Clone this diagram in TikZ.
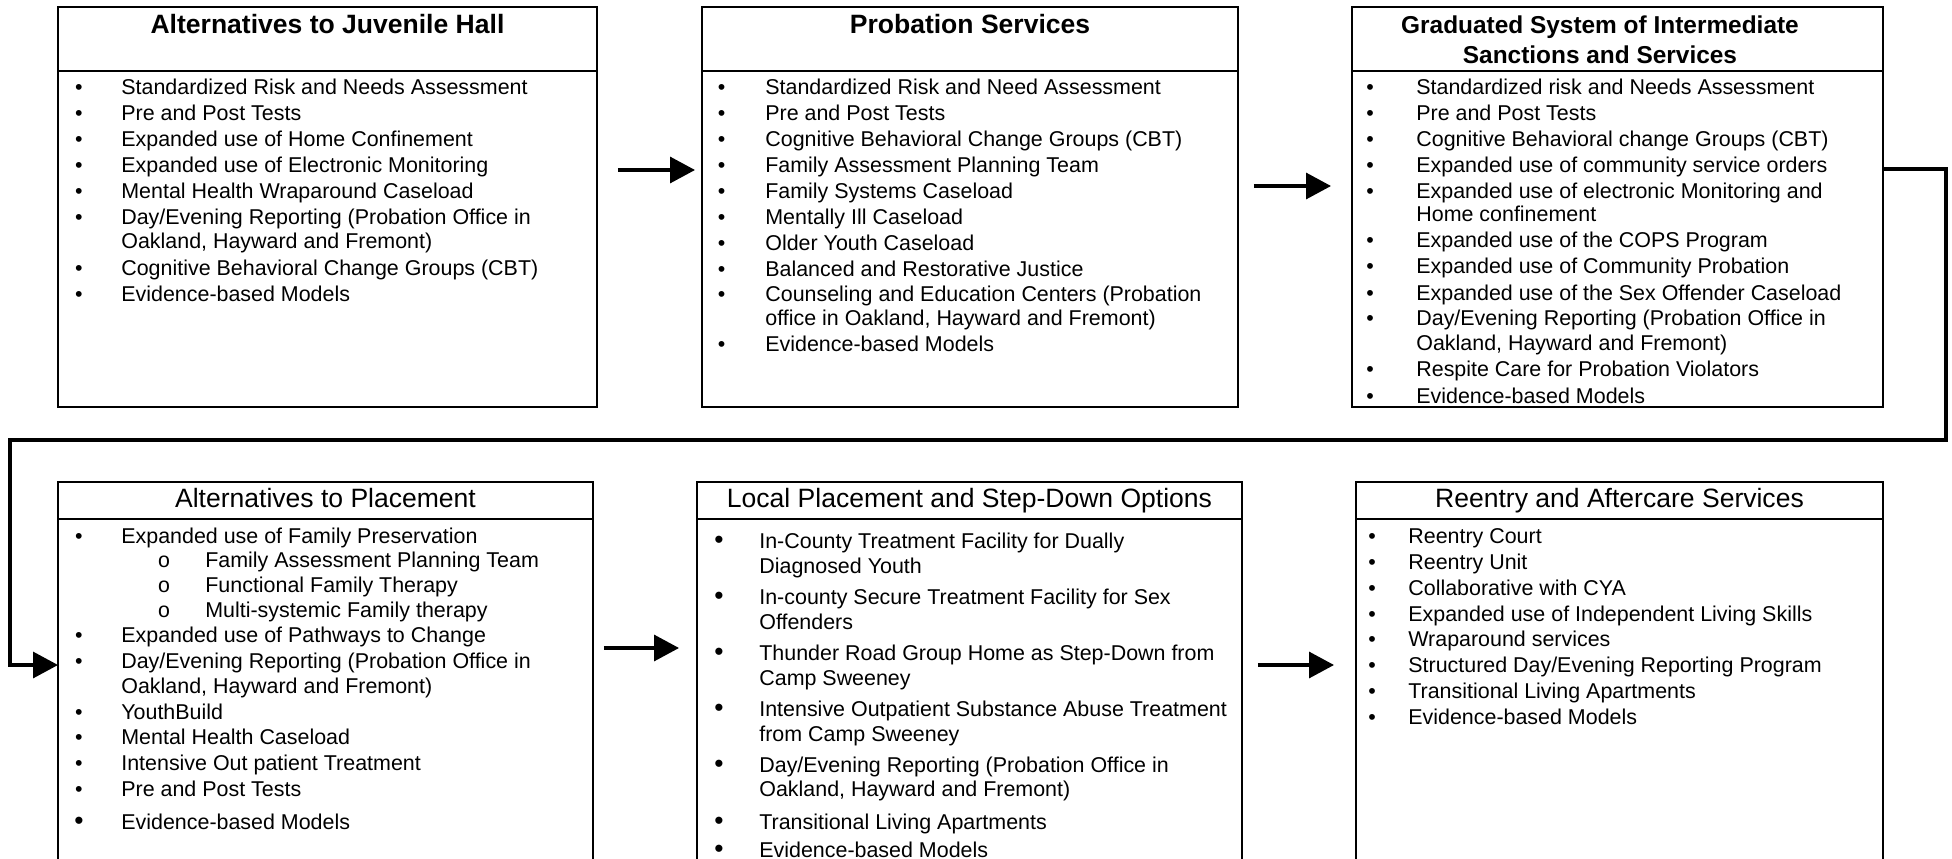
\documentclass[tikz,border=0pt]{standalone}
\usepackage{fontspec}
\setmainfont{Liberation Sans}
\setmonofont{Liberation Mono}
\usetikzlibrary{
  arrows.meta,
  positioning
}
\tikzset{
  boxline/.style={draw, line width=1.1pt, inner sep=0pt, outer sep=0pt},
  hdbold/.style={font=\fontsize{15.1}{17}\selectfont\bfseries, anchor=base, inner sep=0pt},
  hdsmall/.style={font=\fontsize{13.9}{16}\selectfont\bfseries, anchor=base, inner sep=0pt},
  hdplain/.style={font=\fontsize{15.1}{17}\selectfont, anchor=base, inner sep=0pt},
  itemtxt/.style={font=\fontsize{12.2}{14}\selectfont, anchor=base west, inner sep=0pt},
  bul/.style={font=\fontsize{12.2}{14}\selectfont, anchor=base, inner sep=0pt},
  bigbul/.style={font=\fontsize{15}{17}\selectfont, anchor=base, inner sep=0pt},
  subbul/.style={font=\fontsize{12.2}{14}\ttfamily, anchor=base, inner sep=0pt},
  flow/.style={-{Triangle[length=0.5cm, width=0.52cm]}, line width=1.9pt},
}

\begin{document}
\begin{tikzpicture}[x=0.02cm, y=-0.02cm]
\useasboundingbox (0,0) rectangle (1952,859);
\clip (0,0) rectangle (1952,859);

% --- top row: juvenile hall ---
\node[boxline, anchor=north west, minimum width=10.78cm, minimum height=1.28cm] (juvT) at (58,7) {};
\node[boxline, below=0pt of juvT, minimum width=10.78cm, minimum height=6.72cm] (juvB) {};
\node[hdbold] (juvH) at (327.5,33) {Alternatives to Juvenile Hall};
\foreach \yy [count=\k] in {94,120,146,172,198,224,275,301}
  \node[bul] (juvD\k) at (79,\yy) {\textbullet};
\foreach \yy/\tx [count=\k] in {94/{Standardized Risk and Needs Assessment},
    120/{Pre and Post Tests}, 146/{Expanded use of Home Confinement},
    172/{Expanded use of Electronic Monitoring}, 198/{Mental Health Wraparound Caseload},
    224/{Day/Evening Reporting (Probation Office in}, 248/{Oakland, Hayward and Fremont)},
    275/{Cognitive Behavioral Change Groups (CBT)}, 301/{Evidence-based Models}}
  \node[itemtxt] (juvL\k) at (121,\yy) {\tx};

% --- top row: probation services ---
\node[boxline, anchor=north west, minimum width=10.72cm, minimum height=1.28cm] (probT) at (702,7) {};
\node[boxline, below=0pt of probT, minimum width=10.72cm, minimum height=6.72cm] (probB) {};
\node[hdbold] (probH) at (970,33) {Probation Services};
\foreach \yy [count=\k] in {94,120,146,172,198,224,250,276,301,351}
  \node[bul] (probD\k) at (721.5,\yy) {\textbullet};
\foreach \yy/\tx [count=\k] in {94/{Standardized Risk and Need Assessment},
    120/{Pre and Post Tests}, 146/{Cognitive Behavioral Change Groups (CBT)},
    172/{Family Assessment Planning Team}, 198/{Family Systems Caseload},
    224/{Mentally Ill Caseload}, 250/{Older Youth Caseload},
    276/{Balanced and Restorative Justice}, 301/{Counseling and Education Centers (Probation},
    325/{office in Oakland, Hayward and Fremont)}, 351/{Evidence-based Models}}
  \node[itemtxt] (probL\k) at (765,\yy) {\tx};

% --- top row: graduated sanctions ---
\node[boxline, anchor=north west, minimum width=10.62cm, minimum height=1.28cm] (gradT) at (1352,7) {};
\node[boxline, below=0pt of gradT, minimum width=10.62cm, minimum height=6.72cm] (gradB) {};
\node[hdsmall] (gradH1) at (1600,33) {Graduated System of Intermediate};
\node[hdsmall] (gradH2) at (1600,63) {Sanctions and Services};
\foreach \yy [count=\k] in {94,120,146,172,198,247,273,300,325,376,403}
  \node[bul] (gradD\k) at (1370,\yy) {\textbullet};
\foreach \yy/\tx [count=\k] in {94/{Standardized risk and Needs Assessment},
    120/{Pre and Post Tests}, 146/{Cognitive Behavioral change Groups (CBT)},
    172/{Expanded use of community service orders},
    198/{Expanded use of electronic Monitoring and}, 221/{Home confinement},
    247/{Expanded use of the COPS Program}, 273/{Expanded use of Community Probation},
    300/{Expanded use of the Sex Offender Caseload},
    325/{Day/Evening Reporting (Probation Office in}, 350/{Oakland, Hayward and Fremont)},
    376/{Respite Care for Probation Violators}, 403/{Evidence-based Models}}
  \node[itemtxt] (gradL\k) at (1416,\yy) {\tx};

% --- bottom row: placement ---
\node[boxline, anchor=north west, minimum width=10.70cm, minimum height=0.74cm] (plcT) at (58,482) {};
\node[boxline, below=0pt of plcT, minimum width=10.70cm, minimum height=8cm] (plcB) {};
\node[hdplain] (plcH) at (325.5,507) {Alternatives to Placement};
\foreach \yy [count=\k] in {543,642,668,719,744,770,796}
  \node[bul] (plcD\k) at (79,\yy) {\textbullet};
\node[bigbul] (plcD8) at (79,829) {\textbullet};
\foreach \yy [count=\k] in {567,592,617}
  \node[subbul] (plcO\k) at (164,\yy) {o};
\foreach \yy/\tx [count=\k] in {567/{Family Assessment Planning Team},
    592/{Functional Family Therapy}, 617/{Multi-systemic Family therapy}}
  \node[itemtxt] (plcS\k) at (205,\yy) {\tx};
\foreach \yy/\tx [count=\k] in {543/{Expanded use of Family Preservation},
    642/{Expanded use of Pathways to Change},
    668/{Day/Evening Reporting (Probation Office in}, 693/{Oakland, Hayward and Fremont)},
    719/{YouthBuild}, 744/{Mental Health Caseload},
    770/{Intensive Out patient Treatment}, 796/{Pre and Post Tests},
    829/{Evidence-based Models}}
  \node[itemtxt] (plcL\k) at (121,\yy) {\tx};

% --- bottom row: local placement ---
\node[boxline, anchor=north west, minimum width=10.90cm, minimum height=0.74cm] (locT) at (697,482) {};
\node[boxline, below=0pt of locT, minimum width=10.90cm, minimum height=8cm] (locB) {};
\node[hdplain] (locH) at (969.5,507) {Local Placement and Step-Down Options};
\foreach \yy [count=\k] in {548,604,660,716,772,829,857}
  \node[bigbul] (locD\k) at (719,\yy) {\textbullet};
\foreach \yy/\tx [count=\k] in {548/{In-County Treatment Facility for Dually},
    573/{Diagnosed Youth}, 604/{In-county Secure Treatment Facility for Sex},
    629/{Offenders}, 660/{Thunder Road Group Home as Step-Down from},
    685/{Camp Sweeney}, 716/{Intensive Outpatient Substance Abuse Treatment},
    741/{from Camp Sweeney}, 772/{Day/Evening Reporting (Probation Office in},
    796/{Oakland, Hayward and Fremont)}, 829/{Transitional Living Apartments},
    857/{Evidence-based Models}}
  \node[itemtxt] (locL\k) at (759,\yy) {\tx};

% --- bottom row: reentry ---
\node[boxline, anchor=north west, minimum width=10.54cm, minimum height=0.74cm] (reT) at (1356,482) {};
\node[boxline, below=0pt of reT, minimum width=10.54cm, minimum height=8cm] (reB) {};
\node[hdplain] (reH) at (1619.5,507) {Reentry and Aftercare Services};
\foreach \yy [count=\k] in {543,569,595,621,646,672,698,724}
  \node[bul] (reD\k) at (1372,\yy) {\textbullet};
\foreach \yy/\tx [count=\k] in {543/{Reentry Court}, 569/{Reentry Unit},
    595/{Collaborative with CYA}, 621/{Expanded use of Independent Living Skills},
    646/{Wraparound services}, 672/{Structured Day/Evening Reporting Program},
    698/{Transitional Living Apartments}, 724/{Evidence-based Models}}
  \node[itemtxt] (reL\k) at (1408,\yy) {\tx};

% --- arrows ---
\coordinate (ya) at (0,170);
\coordinate (yb) at (0,186);
\coordinate (yc) at (0,169);
\coordinate (yd) at (0,648);
\coordinate (ye) at (0,665);
\coordinate (turn) at (1946,440);
\coordinate (back) at (10,665);
\draw[flow, shorten <=0.42cm, shorten >=0.14cm] (juvB.east |- ya) -- (probB.west |- ya);
\draw[flow, shorten <=0.32cm, shorten >=0.42cm] (probB.east |- yb) -- (gradB.west |- yb);
\draw[flow] (gradB.east |- yc) -| (turn) -| (back) -- (plcB.west |- back);
\draw[flow, shorten <=0.22cm, shorten >=0.36cm] (plcB.east |- yd) -- (locB.west |- yd);
\draw[flow, shorten <=0.32cm, shorten >=0.44cm] (locB.east |- ye) -- (reB.west |- ye);

\end{tikzpicture}
\end{document}
